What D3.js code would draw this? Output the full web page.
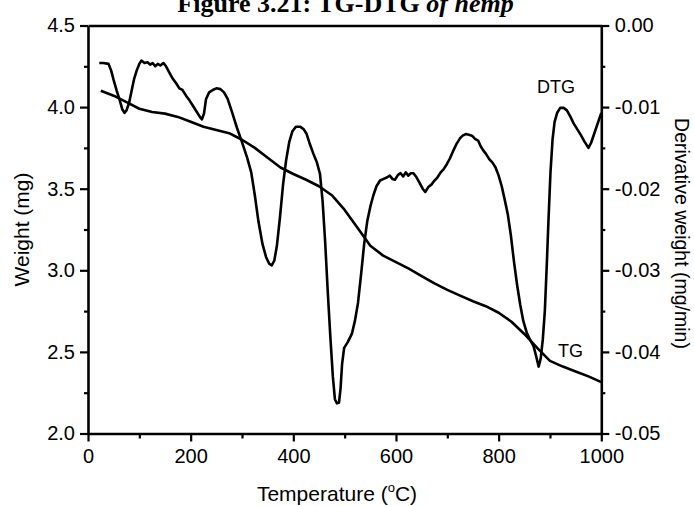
<!DOCTYPE html>
<html>
<head>
<meta charset="utf-8">
<script src="https://cdn.jsdelivr.net/npm/d3@7/dist/d3.min.js"></script>
<style>
  html, body { margin: 0; padding: 0; background: #fff; }
  svg { display: block; }
  .tick text { font-family: "Liberation Sans", Arial, sans-serif; font-size: 20px; fill: #000; }
</style>
</head>
<body>
<svg id="chart" width="694" height="506"></svg>
<script>
// ---- data ----
const tgTemp = [25,50,75,100,125,150,175,200,225,250,275,300,325,350,375,400,425,450,475,500,525,550,575,600,625,650,675,700,725,750,775,800,825,850,875,900,925,950,975,1000];
const tgWeight = [4.10,4.07,4.03,3.99,3.97,3.96,3.94,3.91,3.88,3.86,3.84,3.80,3.75,3.69,3.63,3.59,3.555,3.515,3.46,3.37,3.26,3.15,3.09,3.05,3.01,2.965,2.92,2.88,2.845,2.81,2.78,2.74,2.685,2.61,2.525,2.445,2.41,2.38,2.35,2.315];

const dtgTemp = [22,30,40,45,50,56,62,67,71,75,80,85,90,95,100,104,110,116,121,126,131,136,141,147,152,158,165,172,178,184,191,198,205,212,218,222,226,230,236,243,250,258,265,272,280,290,300,310,318,325,332,340,347,353,358,363,368,374,380,386,392,398,405,413,420,426,432,439,446,452,457,462,467,472,477,481,485,489,492,495,499,506,514,520,526,532,538,544,550,556,562,569,576,583,588,593,598,604,609,614,619,624,629,634,640,646,652,657,663,669,675,681,687,693,699,705,712,718,725,730,736,742,748,754,760,765,770,775,782,788,794,800,806,812,818,824,830,836,842,848,855,862,868,873,878,882,886,890,894,897,901,905,909,914,920,927,933,940,946,953,960,967,975,980,986,993,1000];
const dtgValue = [-0.0046,-0.0046,-0.0047,-0.0055,-0.0067,-0.0080,-0.0092,-0.0103,-0.0107,-0.0104,-0.0095,-0.0080,-0.0065,-0.0055,-0.0047,-0.0043,-0.0046,-0.0045,-0.0048,-0.0046,-0.0050,-0.0047,-0.0049,-0.0046,-0.0050,-0.0057,-0.0065,-0.0071,-0.0077,-0.0079,-0.0086,-0.0092,-0.0099,-0.0106,-0.0112,-0.0115,-0.0108,-0.0090,-0.0082,-0.0079,-0.0077,-0.0078,-0.0082,-0.0090,-0.0105,-0.0125,-0.0143,-0.0162,-0.0180,-0.0208,-0.0240,-0.0268,-0.0284,-0.0292,-0.0294,-0.0288,-0.0270,-0.0235,-0.0195,-0.0165,-0.0143,-0.0130,-0.0124,-0.0124,-0.0127,-0.0133,-0.0145,-0.0157,-0.0168,-0.0182,-0.0215,-0.0265,-0.0325,-0.0380,-0.0430,-0.0458,-0.0463,-0.0462,-0.0445,-0.0415,-0.0395,-0.0388,-0.0378,-0.0362,-0.0340,-0.0305,-0.0268,-0.0240,-0.0222,-0.0208,-0.0197,-0.0190,-0.0188,-0.0186,-0.0184,-0.0188,-0.0189,-0.0183,-0.0181,-0.0185,-0.0180,-0.0184,-0.0181,-0.0181,-0.0186,-0.0193,-0.0200,-0.0204,-0.0198,-0.0195,-0.0190,-0.0186,-0.0180,-0.0176,-0.0170,-0.0163,-0.0153,-0.0145,-0.0138,-0.0135,-0.0133,-0.0134,-0.0135,-0.0139,-0.0141,-0.0148,-0.0153,-0.0157,-0.0164,-0.0168,-0.0174,-0.0184,-0.0197,-0.0214,-0.0232,-0.0258,-0.0290,-0.0318,-0.0342,-0.0362,-0.0377,-0.0386,-0.0393,-0.0405,-0.0418,-0.0408,-0.0385,-0.0350,-0.0290,-0.0240,-0.0180,-0.0140,-0.0118,-0.0107,-0.0101,-0.0101,-0.0104,-0.0112,-0.0120,-0.0127,-0.0134,-0.0142,-0.0150,-0.0144,-0.0133,-0.0120,-0.0107];

const xTicks = [0,200,400,600,800,1000];
const xMinor = [100,300,500,700,900];
const yLeftTicks = [2.0,2.5,3.0,3.5,4.0,4.5];
const yLeftMinor = [2.25,2.75,3.25,3.75,4.25];
const yRightTicks = [0,-0.01,-0.02,-0.03,-0.04,-0.05];
const yRightMinor = [-0.005,-0.015,-0.025,-0.035,-0.045];

// ---- layout ----
const L = 88, R = 601.3, T = 25.5, B = 433.5;
const svg = d3.select("#chart");
const x = d3.scaleLinear().domain([0,1000]).range([L,R]);
const yL = d3.scaleLinear().domain([2.0,4.5]).range([B,T]);
const yR = d3.scaleLinear().domain([-0.05,0]).range([B,T]);

const lineTG = d3.line().x((d,i)=>x(tgTemp[i])).y((d,i)=>yL(tgWeight[i]));
const lineDTG = d3.line().x((d,i)=>x(dtgTemp[i])).y((d,i)=>yR(dtgValue[i]));

svg.append("path").datum(dtgTemp).attr("d", lineDTG)
  .attr("fill","none").attr("stroke","#000").attr("stroke-width",2.6).attr("stroke-linejoin","round");
svg.append("path").datum(tgTemp).attr("d", lineTG)
  .attr("fill","none").attr("stroke","#000").attr("stroke-width",2.6).attr("stroke-linejoin","round");

function styleAxis(g){
  g.select(".domain").attr("stroke","#000").attr("stroke-width",2.6);
  g.selectAll(".tick line").attr("stroke","#000").attr("stroke-width",2.2);
}
function minor(g){
  g.select(".domain").remove();
  g.selectAll(".tick line").attr("stroke","#000").attr("stroke-width",2.2);
  g.selectAll(".tick text").remove();
}

// minor ticks
svg.append("g").attr("transform",`translate(0,${B})`)
  .call(d3.axisBottom(x).tickValues(xMinor).tickSize(5).tickFormat("")).call(minor);
svg.append("g").attr("transform",`translate(${L},0)`)
  .call(d3.axisLeft(yL).tickValues(yLeftMinor).tickSize(4).tickFormat("")).call(minor);
svg.append("g").attr("transform",`translate(${R},0)`)
  .call(d3.axisRight(yR).tickValues(yRightMinor).tickSize(4).tickFormat("")).call(minor);

// top frame
svg.append("g").attr("transform",`translate(0,${T})`)
  .call(d3.axisTop(x).tickValues([]).tickSizeOuter(0)).call(styleAxis);

// major axes
svg.append("g").attr("transform",`translate(0,${B})`)
  .call(d3.axisBottom(x).tickValues(xTicks).tickSize(8).tickSizeOuter(0).tickPadding(7.5).tickFormat(d3.format("d")))
  .call(styleAxis);
svg.append("g").attr("transform",`translate(${L},0)`)
  .call(d3.axisLeft(yL).tickValues(yLeftTicks).tickSize(8).tickSizeOuter(0).tickPadding(5).tickFormat(d3.format(".1f")))
  .call(styleAxis);
svg.append("g").attr("transform",`translate(${R},0)`)
  .call(d3.axisRight(yR).tickValues(yRightTicks).tickSize(8).tickSizeOuter(0).tickPadding(5.5).tickFormat(d=>d3.format(".2f")(d).replace("−","-")))
  .call(styleAxis);

// axis titles
const sans = "'Liberation Sans', Arial, sans-serif";
const xt = svg.append("text").attr("x",337).attr("y",501).attr("text-anchor","middle")
  .attr("font-family",sans).attr("font-size",21).attr("fill","#000");
xt.append("tspan").text("Temperature (");
xt.append("tspan").attr("font-size",13).attr("dy",-9).text("o");
xt.append("tspan").attr("dy",9).text("C)");

svg.append("text").attr("transform",`translate(29,${(T+B)/2}) rotate(-90)`).attr("text-anchor","middle")
  .attr("font-family",sans).attr("font-size",21).attr("fill","#000").text("Weight (mg)");
svg.append("text").attr("transform",`translate(675,${(T+B)/2 + 4}) rotate(90)`).attr("text-anchor","middle")
  .attr("font-family",sans).attr("font-size",19.5).attr("fill","#000").text("Derivative weight (mg/min)");

// curve labels
svg.append("text").attr("x",537).attr("y",93).attr("font-family",sans).attr("font-size",18).attr("fill","#000").text("DTG");
svg.append("text").attr("x",558).attr("y",357).attr("font-family",sans).attr("font-size",18).attr("fill","#000").text("TG");

// title (partly cut off at the top, as in the reference)
const title = svg.append("text").attr("x",345.5).attr("y",12).attr("text-anchor","middle")
  .attr("font-family","'Liberation Serif', 'Times New Roman', serif").attr("font-size",26).attr("font-weight","bold").attr("fill","#000");
title.append("tspan").text("Figure 3.21: TG-DTG ");
title.append("tspan").attr("font-style","italic").text("of hemp");
</script>
</body>
</html>
